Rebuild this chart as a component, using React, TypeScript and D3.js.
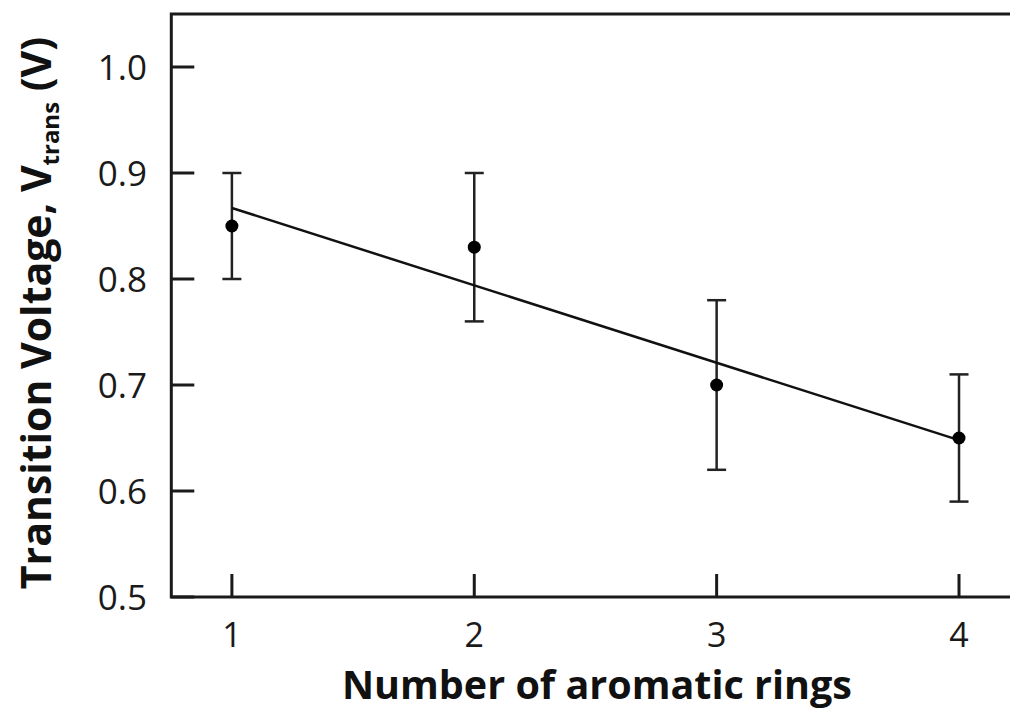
import React from "react";
import * as d3 from "d3";

const rings = [1, 2, 3, 4];
const vtrans = [0.85, 0.83, 0.7, 0.65];
const errLow = [0.8, 0.76, 0.62, 0.59];
const errHigh = [0.9, 0.9, 0.78, 0.71];
const xTicks = [1, 2, 3, 4];
const yTicks = [0.5, 0.6, 0.7, 0.8, 0.9, 1.0];

export default function App() {
  const W = 1010;
  const H = 711;
  const x = d3.scaleLinear().domain([0.75, 4.25]).range([171.3, 1019.6]);
  const y = d3.scaleLinear().domain([0.5, 1.05]).range([597, 14]);

  // least-squares fit
  const mx = d3.mean(rings)!;
  const my = d3.mean(vtrans)!;
  const slope =
    d3.sum(rings.map((r, i) => (r - mx) * (vtrans[i] - my))) /
    d3.sum(rings.map((r) => (r - mx) * (r - mx)));
  const icpt = my - slope * mx;
  const fitPts: [number, number][] = [1, 4].map((r) => [r, icpt + slope * r]);
  const line = d3
    .line<[number, number]>()
    .x((d) => x(d[0]))
    .y((d) => y(d[1]));

  const font = "'Open Sans', 'Noto Sans', sans-serif";
  const x0 = x(0.75);
  const yTop = y(1.05);
  const yBot = y(0.5);
  const tickLen = 23;
  const cap = 9.5;

  return (
    <>
      <style>{"body{margin:0}"}</style>
      <svg width={W} height={H} style={{ display: "block", background: "#fff" }}>
        <path
          d={`M${W + 5},${yTop}H${x0}V${yBot}H${W + 5}`}
          fill="none"
          stroke="#1a1a1a"
          strokeWidth={3}
        />
        {yTicks.map((t) => (
          <g key={"y" + t}>
            <line x1={x0} x2={x0 + tickLen} y1={y(t)} y2={y(t)} stroke="#1a1a1a" strokeWidth={3} />
            <text x={147} y={y(t) + 13} textAnchor="end" fontFamily={font} fontSize={35} fill="#1a1a1a">
              {t.toFixed(1)}
            </text>
          </g>
        ))}
        {xTicks.map((t) => (
          <g key={"x" + t}>
            <line x1={x(t)} x2={x(t)} y1={yBot} y2={yBot - tickLen} stroke="#1a1a1a" strokeWidth={3} />
            <text x={x(t)} y={647} textAnchor="middle" fontFamily={font} fontSize={34} fill="#1a1a1a">
              {t}
            </text>
          </g>
        ))}
        {rings.map((r, i) => (
          <g key={"e" + r}>
            <line x1={x(r)} x2={x(r)} y1={y(errLow[i])} y2={y(errHigh[i])} stroke="#222" strokeWidth={2.5} />
            <line x1={x(r) - cap} x2={x(r) + cap} y1={y(errLow[i])} y2={y(errLow[i])} stroke="#222" strokeWidth={2.5} />
            <line x1={x(r) - cap} x2={x(r) + cap} y1={y(errHigh[i])} y2={y(errHigh[i])} stroke="#222" strokeWidth={2.5} />
          </g>
        ))}
        <path d={line(fitPts)!} fill="none" stroke="#111" strokeWidth={2.5} />
        {rings.map((r, i) => (
          <circle key={"p" + r} cx={x(r)} cy={y(vtrans[i])} r={6.5} fill="#000" />
        ))}
        <text x={597} y={699} textAnchor="middle" fontFamily={font} fontWeight="bold" fontSize={39.5} fill="#111">
          Number of aromatic rings
        </text>
        <text
          transform={`translate(51,313) rotate(-90)`}
          textAnchor="middle"
          fontFamily={font}
          fontWeight="bold"
          fontSize={41}
          fill="#111"
        >
          Transition Voltage, V
          <tspan fontSize={24} dy={8}>trans</tspan>
          <tspan dy={-8}> (V)</tspan>
        </text>
      </svg>
    </>
  );
}
